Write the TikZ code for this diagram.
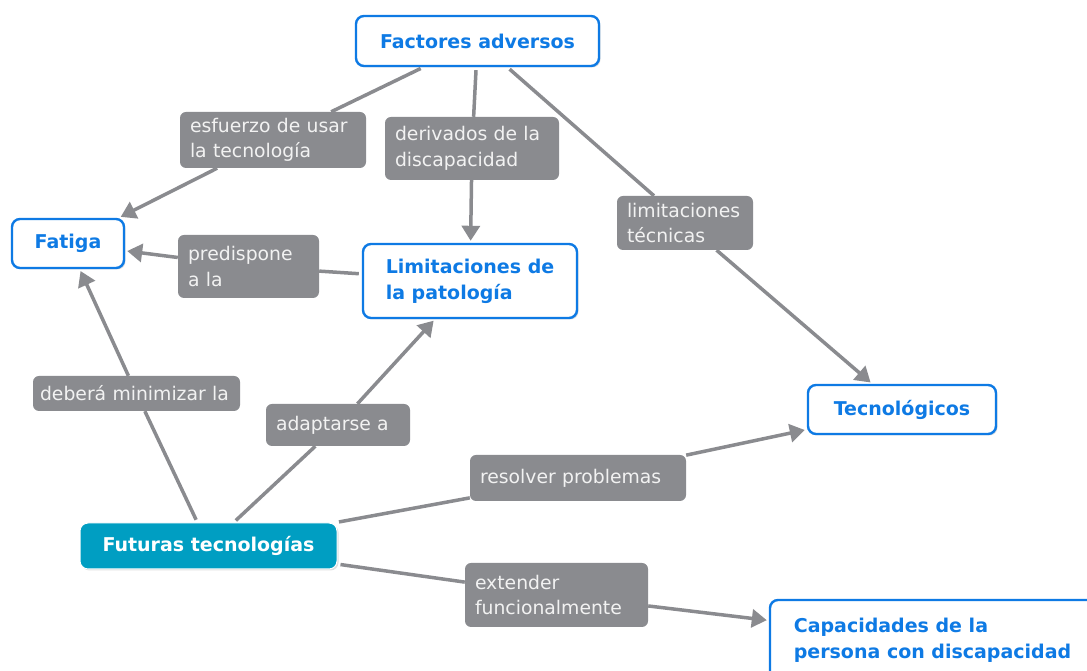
\documentclass[tikz,border=0pt]{standalone}
\usepackage{fontspec}
\setmainfont{DejaVu Sans}
\definecolor{mapblue}{RGB}{14,122,228}
\definecolor{mapteal}{RGB}{0,158,194}
\definecolor{linkgray}{RGB}{138,139,143}
\definecolor{linktext}{RGB}{242,242,242}
\usetikzlibrary{shadows, arrows.meta}

\begin{document}
\begin{tikzpicture}[x=1pt, y=1pt,
    concept/.style={draw=mapblue, line width=2.4pt, fill=white, rounded corners=8pt,
        text=mapblue, font=\fontsize{19}{26}\selectfont\bfseries, align=left,
        drop shadow={opacity=0.25, shadow xshift=1.5pt, shadow yshift=-1.5pt}},
    rootconcept/.style={concept, draw=white, line width=1pt, fill=mapteal, text=white},
    linkbox/.style={fill=linkgray, rounded corners=6pt, text=linktext,
        font=\fontsize{18.8}{25.5}\selectfont, align=left, inner xsep=10pt},
    link/.style={draw=linkgray, line width=3.5pt, shorten <=3pt},
    linkto/.style={draw=linkgray, line width=3.5pt, shorten >=2pt,
        -{Triangle[length=15pt, width=18pt]}}]
                \useasboundingbox (0,0) rectangle (1087,671);
                
                % Concepts
                \node[concept, minimum width=243, minimum height=50] (adversos) at (477.5,630) {Factores adversos};
                \node[concept, minimum width=112, minimum height=49] (fatiga) at (68,427.5) {Fatiga};
                \node[concept, minimum width=214, minimum height=74] (patologia) at (470,390) {Limitaciones de\\la patología};
                \node[concept, minimum width=188, minimum height=49] (tecno) at (902,261.5) {Tecnológicos};
                \node[concept, minimum width=325, minimum height=80] (capacidades) at (932.5,31) {Capacidades de la\\persona con discapacidad};
                \node[rootconcept, minimum width=257, minimum height=46] (futuras) at (208.5,125) {Futuras tecnologías};
                
                % Linking phrases
                \node[linkbox, text width=166, minimum height=56] (esfuerzo) at (273,531) {esfuerzo de usar\\la tecnología};
                \node[linkbox, text width=154, minimum height=63] (derivados) at (472,522.5) {derivados de la\\discapacidad};
                \node[linkbox, text width=116, minimum height=54] (tecnicas) at (685,448) {limitaciones\\técnicas};
                \node[linkbox, text width=121, minimum height=63] (predispone) at (248.5,404.5) {predispone\\a la};
                \node[linkbox, text width=193, minimum height=35, inner xsep=7pt] (minimizar) at (136.5,277.5) {deberá minimizar la};
                \node[linkbox, text width=124, minimum height=42] (adaptarse) at (338,246) {adaptarse a};
                \node[linkbox, text width=196, minimum height=46] (resolver) at (578,193) {resolver problemas};
                \node[linkbox, text width=163, minimum height=64] (extender) at (556.5,76) {extender\\funcionalmente};
                
                % From Factores adversos
                \draw[link] (adversos) -- (esfuerzo);
                \draw[linkto] (esfuerzo) -- (fatiga);
                \draw[link] (adversos) -- (derivados);
                \draw[linkto] (derivados) -- (patologia);
                \draw[link] (adversos) -- (tecnicas);
                \draw[linkto] (tecnicas) -- (tecno);
                
                % From Limitaciones de la patología
                \draw[link] (patologia) -- (predispone);
                \draw[linkto] (predispone) -- (fatiga);
                
                % From Futuras tecnologías
                \draw[link] (futuras) -- (minimizar);
                \draw[linkto] (minimizar) -- (fatiga);
                \draw[link] (futuras) -- (adaptarse);
                \draw[linkto] (adaptarse) -- (patologia);
                \draw[link] (futuras) -- (resolver);
                \draw[linkto] (resolver) -- (tecno);
                \draw[link] (futuras) -- (extender);
                \draw[linkto] (extender) -- (capacidades);
\end{tikzpicture}
\end{document}
